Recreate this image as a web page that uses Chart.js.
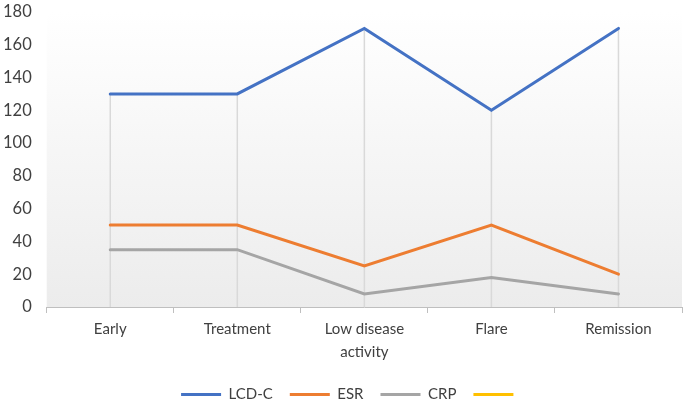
<!DOCTYPE html>
<html>
<head>
<meta charset="utf-8">
<script src="https://cdn.jsdelivr.net/npm/chart.js@4.4.0/dist/chart.umd.min.js"></script>
<style>
  html, body { margin: 0; padding: 0; background: #fff; }
  #wrap { width: 685px; height: 402px; }
</style>
</head>
<body>
<div id="wrap"><canvas id="chart"></canvas></div>
<script>
// chart data
const categories = ['Early', 'Treatment', ['Low disease', 'activity'], 'Flare', 'Remission'];
const lcdC = [130, 130, 170, 120, 170];
const esr = [50, 50, 25, 50, 20];
const crp = [35, 35, 8, 18, 8];
const fourth = [null, null, null, null, null];
const yTicks = [0, 20, 40, 60, 80, 100, 120, 140, 160, 180];

// plot area gradient + high-low lines
const plotDecor = {
  id: 'plotDecor',
  afterLayout(chart){
    // legend sits a bit right of the canvas centre in the original
    const lg = chart.legend;
    if(lg){ lg.left += 16; lg.right += 16; lg.top += 2; lg.bottom += 2; }
  },
  beforeDatasetsDraw(chart){
    const {ctx, chartArea: a, scales} = chart;
    ctx.save();
    const g = ctx.createLinearGradient(0, a.top, 0, a.bottom);
    g.addColorStop(0, '#ffffff');
    g.addColorStop(1, '#ececec');
    ctx.fillStyle = g;
    ctx.fillRect(a.left, a.top, a.right - a.left, a.bottom - a.top);

    ctx.strokeStyle = '#d9d9d9';
    ctx.lineWidth = 1.5;
    lcdC.forEach((v, i) => {
      const hi = Math.max(v, esr[i], crp[i]);
      const x = scales.x.getPixelForValue(i);
      ctx.beginPath();
      ctx.moveTo(x, scales.y.getPixelForValue(0));
      ctx.lineTo(x, scales.y.getPixelForValue(hi));
      ctx.stroke();
    });
    ctx.restore();
  }
};

function line(label, data, color){
  return {
    label: label,
    data: data,
    borderColor: color,
    backgroundColor: color,
    borderWidth: 3,
    borderCapStyle: 'round',
    pointRadius: 0,
    tension: 0,
    fill: false
  };
}

const fontFam = 'Lato, "Open Sans", sans-serif';

new Chart(document.getElementById('chart'), {
  type: 'line',
  data: {
    labels: categories,
    datasets: [
      line('LCD-C', lcdC, '#4472c4'),
      line('ESR', esr, '#ed7d31'),
      line('CRP', crp, '#a5a5a5'),
      line('', fourth, '#ffc000')
    ]
  },
  options: {
    responsive: true,
    maintainAspectRatio: false,
    animation: false,
    layout: {padding: {left: -12, right: 3, top: 0, bottom: -8}},
    plugins: {
      tooltip: {enabled: false},
      legend: {
        position: 'bottom',
        labels: {
          usePointStyle: true,
          pointStyle: 'line',
          pointStyleWidth: 40,
          boxWidth: 26,
          boxHeight: 10,
          padding: 17,
          color: '#404040',
          font: {family: fontFam, size: 15}
        }
      }
    },
    scales: {
      x: {
        offset: true,
        grid: {
          offset: true,
          drawOnChartArea: false,
          tickLength: 6,
          color: '#bfbfbf'
        },
        border: {color: '#bfbfbf', width: 1},
        ticks: {
          color: '#404040',
          font: {family: fontFam, size: 15, lineHeight: 1.5},
          maxRotation: 0,
          padding: 5
        }
      },
      y: {
        min: 0,
        max: 180,
        afterBuildTicks(axis){ axis.ticks = yTicks.map(v => ({value: v})); },
        afterFit(axis){ axis.paddingTop = 12; axis.paddingBottom = 10; },
        grid: {display: false, drawTicks: false},
        border: {display: false},
        ticks: {
          color: '#404040',
          font: {family: fontFam, size: 16.5},
          padding: 15
        }
      }
    }
  },
  plugins: [plotDecor]
});
</script>
</body>
</html>
